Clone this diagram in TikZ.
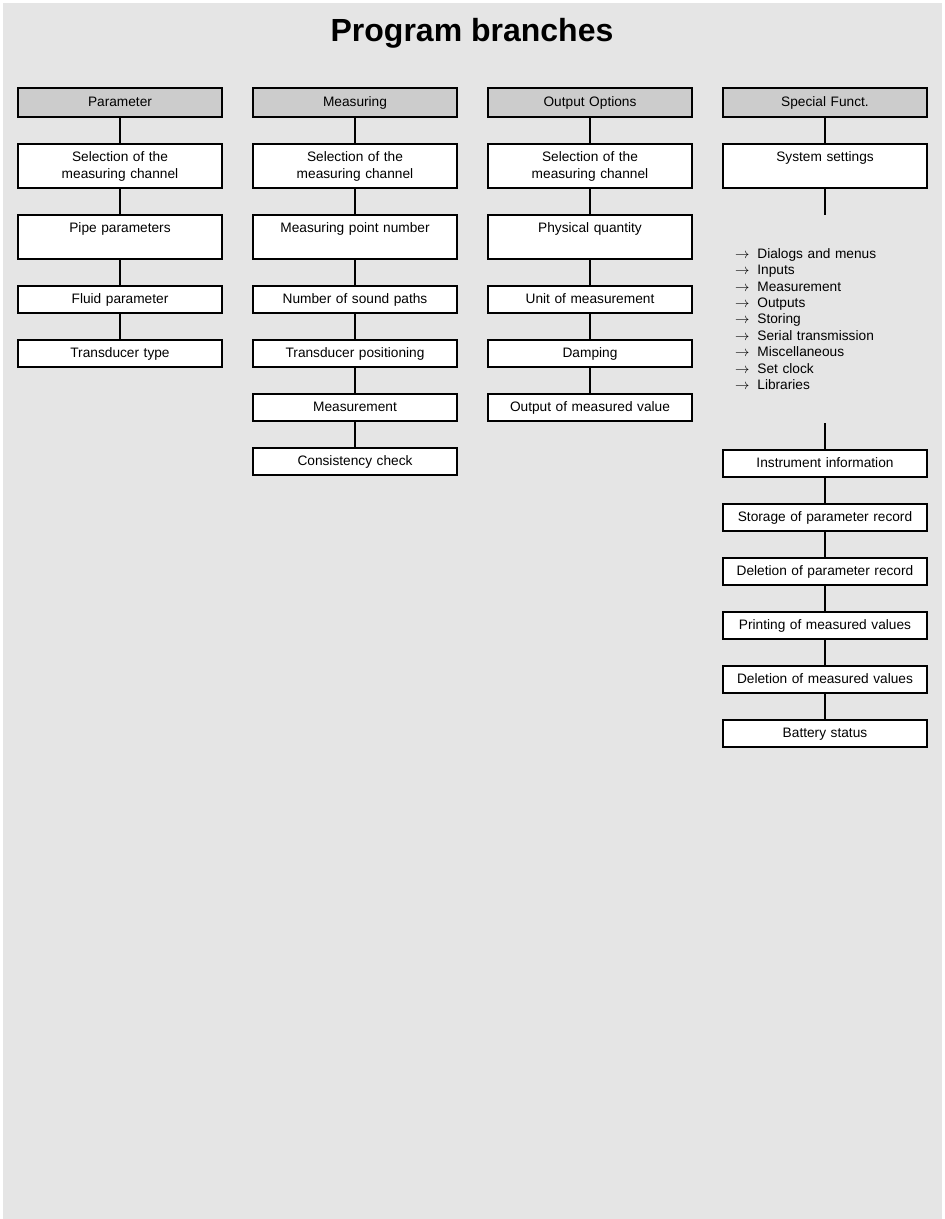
\documentclass[tikz,border=0pt]{standalone}
\usepackage{fontspec}
\setmainfont{Liberation Sans}
\usetikzlibrary{positioning}
\definecolor{pbback}{HTML}{E5E5E5}
\definecolor{pbgrey}{HTML}{CCCCCC}

\begin{document}
\begin{tikzpicture}[
  font=\fontsize{13.7}{17}\selectfont,
  node distance=27pt,
  pbbox/.style={draw=black, fill=white, line width=1.1pt, align=center,
                text width=190pt, inner xsep=7pt, inner ysep=7pt, outer sep=0pt,
                text height=10pt, text depth=3pt},
  pbhead/.style={pbbox, fill=pbgrey, inner ysep=8pt},
  pbtwo/.style={pbbox, text depth=20pt},
  pblist/.style={align=left, text width=180pt, minimum height=208pt, inner sep=0pt,
                 outer sep=0pt, font=\fontsize{13.7}{16.4}\selectfont},
  pbline/.style={draw=black, line width=1.1pt}
]

%--------------------------------------------------------------
% Sfondo e titolo
%--------------------------------------------------------------
\useasboundingbox (0pt,0pt) rectangle (945pt,-1219pt);
\fill[pbback] (3pt,-3pt) rectangle (942pt,-1219pt);

\node[font=\bfseries\fontsize{32}{38}\selectfont, anchor=base] (title)
  at (472pt,-41pt) {Program branches};

%--------------------------------------------------------------
% Colonna 1: Parameter
%--------------------------------------------------------------
\node[pbhead, anchor=north] (par) at (120pt,-88pt) {Parameter};
\node[pbtwo, below=of par] (parsel) {Selection of the\\ measuring channel};
\node[pbtwo, below=of parsel] (parpipe) {Pipe parameters};
\node[pbbox, below=of parpipe] (parfluid) {Fluid parameter};
\node[pbbox, below=of parfluid] (partrans) {Transducer type};

%--------------------------------------------------------------
% Colonna 2: Measuring
%--------------------------------------------------------------
\node[pbhead, anchor=north] (mea) at (355pt,-88pt) {Measuring};
\node[pbtwo, below=of mea] (measel) {Selection of the\\ measuring channel};
\node[pbtwo, below=of measel] (meapoint) {Measuring point number};
\node[pbbox, below=of meapoint] (meapaths) {Number of sound paths};
\node[pbbox, below=of meapaths] (meapos) {Transducer positioning};
\node[pbbox, below=of meapos] (meameas) {Measurement};
\node[pbbox, below=of meameas] (meacheck) {Consistency check};

%--------------------------------------------------------------
% Colonna 3: Output Options
%--------------------------------------------------------------
\node[pbhead, anchor=north] (out) at (590pt,-88pt) {Output Options};
\node[pbtwo, below=of out] (outsel) {Selection of the\\ measuring channel};
\node[pbtwo, below=of outsel] (outqty) {Physical quantity};
\node[pbbox, below=of outqty] (outunit) {Unit of measurement};
\node[pbbox, below=of outunit] (outdamp) {Damping};
\node[pbbox, below=of outdamp] (outval) {Output of measured value};

%--------------------------------------------------------------
% Colonna 4: Special Funct.
%--------------------------------------------------------------
\node[pbhead, anchor=north] (spe) at (825pt,-88pt) {Special Funct.};
\node[pbtwo, below=of spe] (spesys) {System settings};

\node[pblist, below=of spesys] (spelist)
  {$\rightarrow$\hspace{8pt}Dialogs and menus\\
   $\rightarrow$\hspace{8pt}Inputs\\
   $\rightarrow$\hspace{8pt}Measurement\\
   $\rightarrow$\hspace{8pt}Outputs\\
   $\rightarrow$\hspace{8pt}Storing\\
   $\rightarrow$\hspace{8pt}Serial transmission\\
   $\rightarrow$\hspace{8pt}Miscellaneous\\
   $\rightarrow$\hspace{8pt}Set clock\\
   $\rightarrow$\hspace{8pt}Libraries};

\node[pbbox, below=of spelist] (speinfo) {Instrument information};
\node[pbbox, below=of speinfo] (spestore) {Storage of parameter record};
\node[pbbox, below=of spestore] (spedelpar) {Deletion of parameter record};
\node[pbbox, below=of spedelpar] (speprint) {Printing of measured values};
\node[pbbox, below=of speprint] (spedelval) {Deletion of measured values};
\node[pbbox, below=of spedelval] (spebatt) {Battery status};

%--------------------------------------------------------------
% Collegamenti
%--------------------------------------------------------------
\draw[pbline] (par.south) -- (parsel.north);
\draw[pbline] (parsel.south) -- (parpipe.north);
\draw[pbline] (parpipe.south) -- (parfluid.north);
\draw[pbline] (parfluid.south) -- (partrans.north);

\draw[pbline] (mea.south) -- (measel.north);
\draw[pbline] (measel.south) -- (meapoint.north);
\draw[pbline] (meapoint.south) -- (meapaths.north);
\draw[pbline] (meapaths.south) -- (meapos.north);
\draw[pbline] (meapos.south) -- (meameas.north);
\draw[pbline] (meameas.south) -- (meacheck.north);

\draw[pbline] (out.south) -- (outsel.north);
\draw[pbline] (outsel.south) -- (outqty.north);
\draw[pbline] (outqty.south) -- (outunit.north);
\draw[pbline] (outunit.south) -- (outdamp.north);
\draw[pbline] (outdamp.south) -- (outval.north);

\draw[pbline] (spe.south) -- (spesys.north);
\draw[pbline] (spesys.south) -- (spelist.north);
\draw[pbline] (spelist.south) -- (speinfo.north);
\draw[pbline] (speinfo.south) -- (spestore.north);
\draw[pbline] (spestore.south) -- (spedelpar.north);
\draw[pbline] (spedelpar.south) -- (speprint.north);
\draw[pbline] (speprint.south) -- (spedelval.north);
\draw[pbline] (spedelval.south) -- (spebatt.north);

\end{tikzpicture}
\end{document}
